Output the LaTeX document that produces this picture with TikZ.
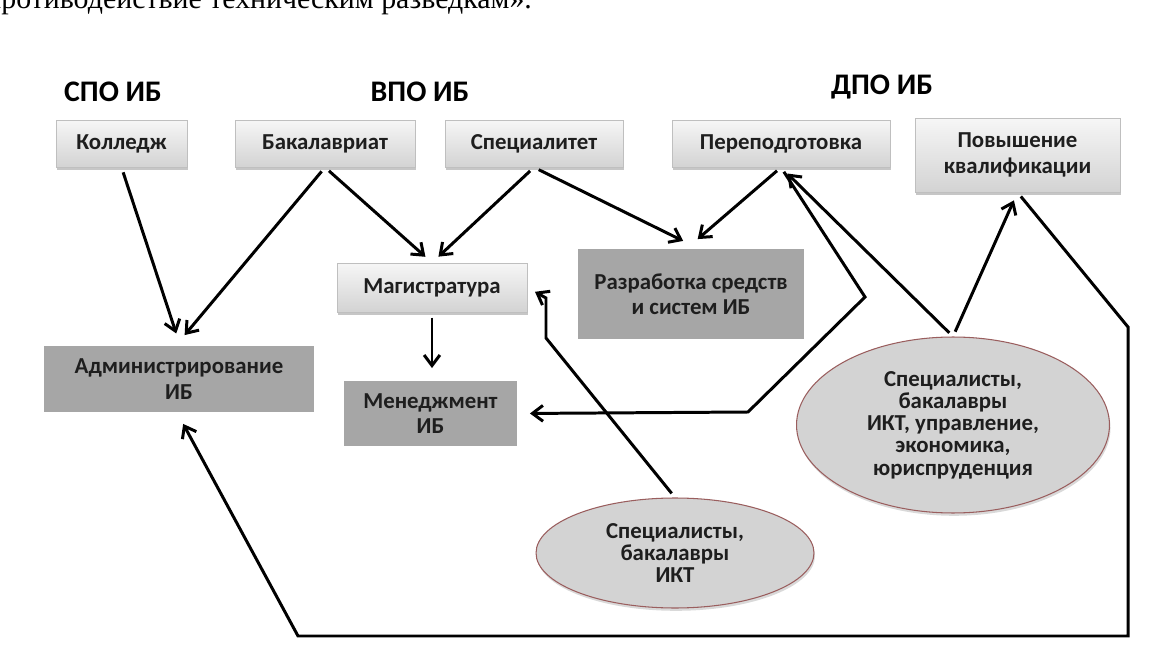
\documentclass[tikz,border=0pt]{standalone}
\usepackage{fontspec}
\setmainfont{Carlito}
\newfontfamily\textserif{Liberation Serif}
\usetikzlibrary{arrows.meta,shapes.geometric,shadows}
\definecolor{boxtop}{HTML}{F6F6F6}
\definecolor{boxbot}{HTML}{D3D3D3}
\definecolor{boxdark}{HTML}{A6A6A6}
\definecolor{ovalfill}{HTML}{D3D3D3}
\definecolor{ovalline}{HTML}{9A5E5E}
\definecolor{txt}{HTML}{1E1E1E}

\begin{document}
\begin{tikzpicture}[x=0.02cm,y=-0.02cm]
\tikzset{lightbox/.style={rectangle, top color=boxtop, bottom color=boxbot, draw=gray!50, line width=0.4pt, text=txt, font=\bfseries\fontsize{13}{14.5}\selectfont, align=center, inner sep=0pt, drop shadow={shadow xshift=0.6pt, shadow yshift=-1.6pt, opacity=0.45}}}
\tikzset{darkbox/.style={rectangle, fill=boxdark, draw=white, line width=2.5pt, text=txt, font=\bfseries\fontsize{13}{14.5}\selectfont, align=center, inner sep=0pt, drop shadow={shadow xshift=0.3pt, shadow yshift=-0.9pt, opacity=0.15}}}
\tikzset{oval/.style={ellipse, fill=ovalfill, draw=ovalline, line width=0.6pt, text=txt, font=\bfseries\fontsize{13}{12.7}\selectfont, align=center, inner sep=0pt, drop shadow={shadow xshift=0.6pt, shadow yshift=-1.6pt, opacity=0.3}}}
\tikzset{levelhead/.style={font=\bfseries\fontsize{17}{20}\selectfont, inner sep=0pt}}
\tikzset{arr/.style={line width=1.7pt, -{Straight Barb[length=6pt,width=9pt]}, shorten >=5pt, shorten <=3pt}}

\useasboundingbox (0,0) rectangle (1164,669);

% last line of the text above, cut by the page edge
\begin{scope}
\clip (0,0) rectangle (1164,669);
\node[anchor=base west, font=\textserif\fontsize{17}{20}\selectfont, inner sep=0pt] (toptext) at (-15,9) {противодействие техническим разведкам».};
\end{scope}

\node[levelhead] (spo) at (113,92) {СПО ИБ};
\node[levelhead] (vpo) at (420,92) {ВПО ИБ};
\node[levelhead] (dpo) at (882,87) {ДПО ИБ};

\node[lightbox, minimum width=2.62cm, minimum height=0.94cm] (kol) at (121.5,143.5) {Колледж};
\node[lightbox, minimum width=3.6cm, minimum height=0.94cm] (bak) at (325,143.5) {Бакалавриат};
\node[lightbox, minimum width=3.56cm, minimum height=0.94cm] (spec) at (534,143.5) {Специалитет};
\node[lightbox, minimum width=4.36cm, minimum height=0.94cm] (perep) at (781,143.5) {Переподготовка};
\node[lightbox, minimum width=4.1cm, minimum height=1.48cm] (pov) at (1017.5,155) {Повышение\\квалификации};

\node[lightbox, minimum width=3.8cm, minimum height=0.98cm] (mag) at (432,287.5) {Магистратура};
\node[darkbox, minimum width=4.6cm, minimum height=1.88cm] (razr) at (691,294) {Разработка средств\\и систем ИБ};
\node[darkbox, minimum width=5.48cm, minimum height=1.4cm] (adm) at (179,379) {Администрирование\\ИБ};
\node[darkbox, minimum width=3.54cm, minimum height=1.38cm] (men) at (430.5,413.5) {Менеджмент\\ИБ};

\node[oval, minimum width=6.26cm, minimum height=3.52cm] (spec2) at (953,425) {Специалисты,\\бакалавры\\ИКТ, управление,\\экономика,\\юриспруденция};
\node[oval, minimum width=5.56cm, minimum height=2.2cm] (ikt) at (675,553) {Специалисты,\\бакалавры\\ИКТ};

\coordinate (pm1) at (865,297);
\coordinate (pm2) at (748,412);
\coordinate (pa1) at (1128,327);
\coordinate (pa2) at (1128,636);
\coordinate (pa3) at (298,636);
\coordinate (im1) at (546,338);
\coordinate (im2) at (546,298);

\draw[arr] (kol.south) -- (adm.north);
\draw[arr] (bak.south) -- (adm.north);
\draw[arr] (bak.south) -- (mag.north);
\draw[arr] (spec.south) -- (mag.north);
\draw[arr] (spec.south) -- (razr.north);
\draw[arr] (perep.south) -- (razr.north);
\draw[arr] (mag.south) -- (mag.south |- men.north);
\draw[arr] (perep.south) -- (pm1) -- (pm2) -- (men.east);
\draw[arr] (spec2.north) -- (perep.south);
\draw[arr] (spec2.north) -- (pov.south);
\draw[arr] (pov.south) -- (pa1) -- (pa2) -- (pa3) -- (adm.south);
\draw[arr] (ikt.north) -- (im1) -- (im2) -- (mag.east);

\end{tikzpicture}
\end{document}
